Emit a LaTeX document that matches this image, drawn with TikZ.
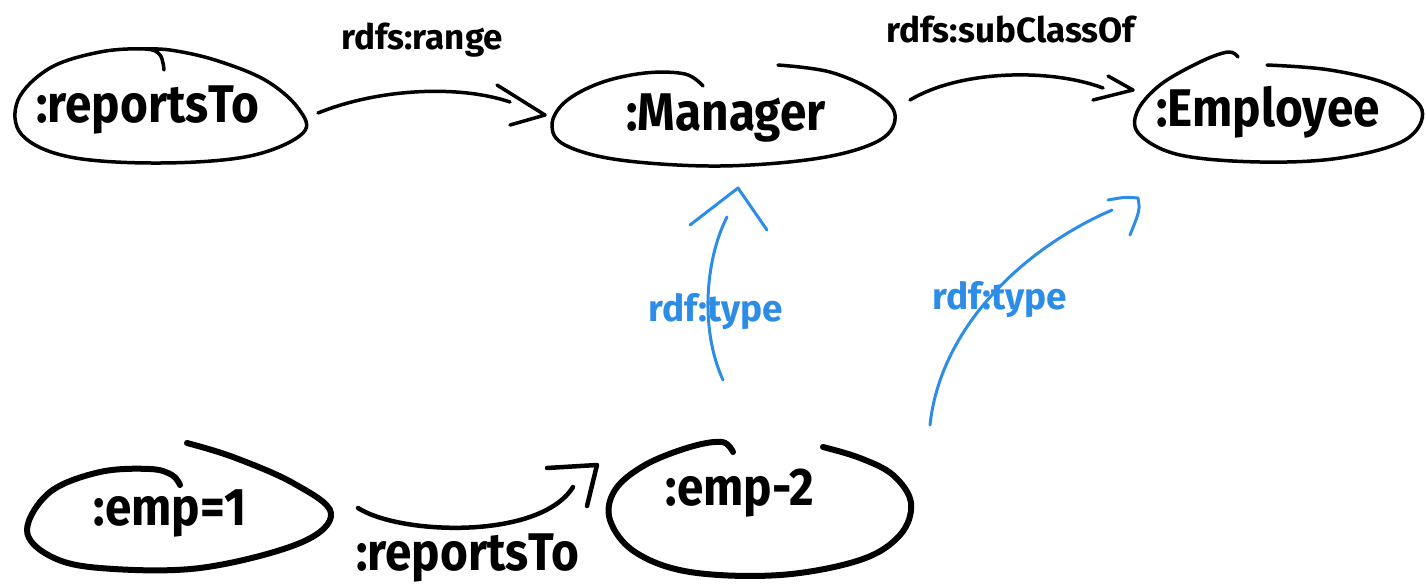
\documentclass[tikz,border=0pt]{standalone}
\usepackage{fontspec}
\newfontfamily\hand[FakeStretch=0.9]{Fira Sans}
\newfontfamily\handwide{Fira Sans}
\definecolor{typeblue}{RGB}{45,140,230}
\begin{document}
\begin{tikzpicture}[x=1pt,y=-1pt,
  line cap=round, line join=round,
  outline/.style={draw=black, line width=3.5pt},
  thickoutline/.style={draw=black, line width=6pt},
  nodetext/.style={font=\hand\bfseries\fontsize{53}{53}\selectfont, inner sep=0pt},
  edgetext/.style={font=\handwide\bfseries\fontsize{35}{35}\selectfont, inner sep=0pt},
  rel/.style={draw=black, line width=3.5pt},
  typerel/.style={draw=typeblue, line width=3pt},
  typetext/.style={font=\handwide\bfseries\fontsize{37}{37}\selectfont, inner sep=0pt, text=typeblue}]
\useasboundingbox (0,0) rectangle (1426,587);

% class and property nodes
\node[nodetext] (rt)  at (148,110) {:reportsTo};
\node[nodetext] (mgr) at (726,118) {:Manager};
\node[nodetext] (emp) at (1268,112) {:Employee};
\node[nodetext] (e1)  at (170,513) {:emp=1};
\node[nodetext] (e2)  at (740,493) {:emp-2};

% hand-drawn outlines
\draw[outline] plot[smooth, tension=0.6] coordinates {
  (164,70) (160,55) (145,49) (100,52) (50,68) (18,100) (22,135) (70,157)
  (160,163) (250,156) (303,133) (298,108) (265,80) (215,60) (170,50) (140,49)};
\draw[outline] plot[smooth, tension=0.6] coordinates {
  (778,65) (830,72) (875,92) (895,115) (880,140) (820,158) (720,166)
  (620,160) (565,145) (552,125) (565,102) (600,83) (645,73) (685,74) (703,86)};
\draw[outline] plot[smooth, tension=0.6] coordinates {
  (1267,65) (1330,70) (1390,85) (1422,110) (1405,140) (1340,158) (1260,162)
  (1180,155) (1140,135) (1137,112) (1160,85) (1200,62) (1228,52) (1238,57)};
\draw[thickoutline] plot[smooth, tension=0.6] coordinates {
  (187,443) (233,457) (293,483) (331,513) (300,543) (200,568) (100,568)
  (50,556) (27,530) (50,492) (100,472) (150,469) (172,475) (180,485)};
\draw[thickoutline] plot[smooth, tension=0.6] coordinates {
  (823,447) (860,458) (893,475) (911,503) (900,535) (860,560) (780,575)
  (690,572) (635,552) (610,520) (615,490) (645,465) (690,447) (722,442) (733,452)};

% connector end points
\coordinate (rtOut)  at (318,113);
\coordinate (mgrIn)  at (510,102);
\coordinate (mgrTip) at (545,115);
\coordinate (mgrOut) at (910,100);
\coordinate (empIn)  at (1103,88);
\coordinate (empTip) at (1133,90);
\coordinate (e1Out)  at (358,508);
\coordinate (e2In)   at (573,487);
\coordinate (e2Tip)  at (597,465);
\coordinate (e2Up)   at (723,380);
\coordinate (mgrLow) at (727,217);
\coordinate (mgrHd)  at (738,188);
\coordinate (e2Rt)   at (930,425);
\coordinate (empLow) at (1112,210);
\coordinate (empHd)  at (1138,198);

% rdfs:range
\draw[rel] (rtOut) .. controls (380,88) and (460,85) .. (mgrIn);
\draw[rel] (497,85) -- (mgrTip) -- (510,125);
\node[edgetext] (lrange) at (422,40) {rdfs:range};

% rdfs:subClassOf
\draw[rel] (mgrOut) .. controls (960,70) and (1050,68) .. (empIn);
\draw[rel] (1108,76) -- (empTip) -- (1093,100);
\node[edgetext] (lsub) at (1011,30) {rdfs:subClassOf};

% :reportsTo between the individuals
\draw[rel, line width=4.5pt] (e1Out) .. controls (400,535) and (540,540) .. (e2In);
\draw[rel, line width=4.5pt] (547,468) -- (e2Tip) -- (587,506);
\node[nodetext] (lrep) at (468,558) {:reportsTo};

% rdf:type links
\draw[typerel] (e2Up) .. controls (700,330) and (705,260) .. (mgrLow);
\draw[typerel] (690,225) -- (mgrHd) -- (767,230);
\node[typetext] (lt1) at (716,312) {rdf:type};

\draw[typerel] (e2Rt) .. controls (940,330) and (1020,250) .. (empLow);
\draw[typerel] (1108,200) .. controls (1125,197) .. (empHd) .. controls (1140,210) .. (1130,235);
\node[typetext] (lt2) at (1000,300) {rdf:type};
\end{tikzpicture}
\end{document}
